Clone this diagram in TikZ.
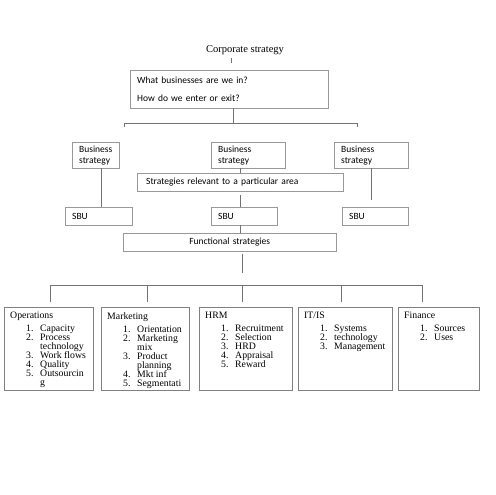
\documentclass[tikz,border=0pt]{standalone}
\usepackage{fontspec}
\setmainfont{Liberation Serif}
\newfontfamily\calibri{Carlito}
\usetikzlibrary{calc}
\newcommand{\fitem}[2]{\hspace*{16pt}\makebox[14pt][l]{#1}#2}
\newcommand{\tightlines}{\lineskiplimit=-5pt\relax}

\begin{document}
\begin{tikzpicture}[
                x=1pt, y=-1pt,
                box/.style={
                    draw=black!40,
                    rectangle,
                    anchor=north west,
                    inner xsep=7pt,
                    inner ysep=0pt,
                    align=left,
                    font=\calibri\fontsize{9.5}{11}\selectfont
                },
                bizbox/.style={
                    box,
                    text width=#1,
                    minimum height=26pt
                },
                sbubox/.style={
                    box,
                    text width=#1,
                    minimum height=18pt
                },
                listbox/.style={
                    draw=black!50,
                    rectangle,
                    anchor=north west,
                    inner xsep=6pt,
                    inner ysep=5pt,
                    font=\fontsize{9.8}{9}\selectfont
                },
                link/.style={
                    draw=black!55,
                    line width=0.9pt
                }
            ]
                \useasboundingbox (0,0) rectangle (495,495);

                \node[inner sep=0pt, font=\fontsize{10.5}{12}\selectfont] (corp) at (245,50) {Corporate strategy};
                \node[box, text width=184pt, minimum height=38pt] (qbox) at (130,70)
                    {What businesses are we in?\\[7.5pt]How do we enter or exit?};

                \node[bizbox=33pt] (biz1) at (72,142)  {Business\\strategy};
                \node[bizbox=60pt] (biz2) at (211,142) {Business\\strategy};
                \node[bizbox=60pt] (biz3) at (334,142) {Business\\strategy};
                \node[sbubox=192pt] (area) at (137,173) {\hspace*{2pt}Strategies relevant to a particular area};

                \node[sbubox=53pt] (sbu1) at (65,207)  {SBU};
                \node[sbubox=52pt] (sbu2) at (211,207) {SBU};
                \node[sbubox=52pt] (sbu3) at (342,207) {SBU};
                \node[sbubox=199pt, align=center] (func) at (123,233) {Functional strategies};

                % functional areas
                \node[listbox] (ops) at (4,307) {\parbox[t][73pt][t]{77pt}{\tightlines Operations\\[4pt]
                    \fitem{1.}{Capacity}\\ \fitem{2.}{Process}\\ \fitem{}{technology}\\
                    \fitem{3.}{Work flows}\\ \fitem{4.}{Quality}\\ \fitem{5.}{Outsourcin}\\ \fitem{}{g}}};
                \node[listbox] (mkt) at (101,307) {\parbox[t][73pt][t]{76pt}{\tightlines Marketing\\[4pt]
                    \fitem{1.}{Orientation}\\ \fitem{2.}{Marketing}\\ \fitem{}{mix}\\
                    \fitem{3.}{Product}\\ \fitem{}{planning}\\ \fitem{4.}{Mkt inf}\\ \fitem{5.}{Segmentati}}};
                \node[listbox] (hrm) at (199,307) {\parbox[t][73pt][t]{81pt}{\tightlines HRM\\[4pt]
                    \fitem{1.}{Recruitment}\\ \fitem{2.}{Selection}\\ \fitem{3.}{HRD}\\
                    \fitem{4.}{Appraisal}\\ \fitem{5.}{Reward}}};
                \node[listbox] (itis) at (298,307) {\parbox[t][73pt][t]{82pt}{\tightlines IT/IS\\[4pt]
                    \fitem{1.}{Systems}\\ \fitem{2.}{technology}\\ \fitem{3.}{Management}}};
                \node[listbox] (fin) at (398,307) {\parbox[t][73pt][t]{69pt}{\tightlines Finance\\[4pt]
                    \fitem{1.}{Sources}\\ \fitem{2.}{Uses}}};

                % connectors
                \coordinate (busL) at (124,123);
                \coordinate (busR) at (357,123);
                \coordinate (bus) at (242,285);

                \draw[link] ($(corp.south -| qbox.north)+(2,3)$) -- ++(0,5);
                \draw[link] ($(qbox.south)+(4,0)$) -- ($(qbox.south)+(4,15)$);
                \draw[link] ($(busL)+(0,4)$) -- (busL) -- (busR) -- ($(busR)+(0,4)$);

                \draw[link] ($(biz1.south)+(6,0)$) -- ($(biz1.south |- sbu1.north)+(6,0)$);
                \draw[link] (biz2.south -| area.north) -- (area.north);
                \draw[link] ($(area.south)+(0,4)$) -- (area.south |- sbu2.north);
                \draw[link] (area.south |- sbu2.south) -- (area.south |- func.north);
                \draw[link] (biz3.south) -- ($(biz3.south |- sbu3.north)+(0,-7)$);

                \draw[link] ($(func.south -| bus)+(0,3)$) -- ($(bus)+(0,-12)$);
                \draw[link] ($(ops.north |- bus)+(2,0)$) -- ($(fin.north |- bus)+(-16,0)$);
                \draw[link] ($(ops.north |- bus)+(2,0)$) -- ($(ops.north)+(2,-5)$);
                \draw[link] ($(mkt.north |- bus)+(2,0)$) -- ($(mkt.north)+(2,-5)$);
                \draw[link] ($(hrm.north |- bus)+(-3,0)$) -- ($(hrm.north)+(-3,-5)$);
                \draw[link] ($(itis.north |- bus)+(-4,0)$) -- ($(itis.north)+(-4,-5)$);
                \draw[link] ($(fin.north |- bus)+(-16,0)$) -- ($(fin.north)+(-16,-5)$);
        \end{tikzpicture}
\end{document}
